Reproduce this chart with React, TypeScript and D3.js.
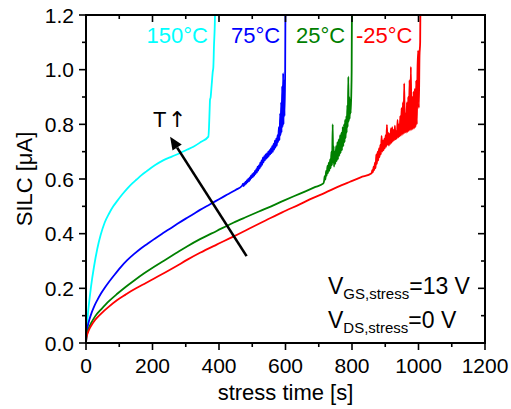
import React from "react";
import * as d3 from "d3";

// ---------- data ----------
const xTicksMajor = [0, 200, 400, 600, 800, 1000, 1200];
const xTicksMinor = [100, 300, 500, 700, 900, 1100];
const yTicksMajor = [0, 0.2, 0.4, 0.6, 0.8, 1.0, 1.2];
const yTicksMinor = [0.1, 0.3, 0.5, 0.7, 0.9, 1.1];

const seriesNames = ["150°C", "75°C", "25°C", "-25°C"];
const seriesColors = ["#00FFFF", "#0000FF", "#008000", "#FF0000"];

// 150 °C  [time s, SILC uA]
const s150: [number, number][] = [
  [0, 0], [1, 0.035], [3, 0.07], [6, 0.11], [10, 0.155], [15, 0.205], [24, 0.279], [34, 0.345], [44, 0.395],
  [56, 0.44], [69, 0.473], [82, 0.5], [94, 0.52], [110, 0.545], [124, 0.565], [140, 0.585],
  [152, 0.598], [167, 0.614], [182, 0.628], [207, 0.65], [232, 0.668], [258, 0.682], [283, 0.695],
  [303, 0.707], [323, 0.718], [345, 0.735], [368, 0.755], [370, 0.79], [372, 0.86], [373, 0.89],
  [375, 0.9], [377, 0.93], [379, 0.96], [381, 0.99], [383, 1.01], [385, 1.09], [387, 1.15],
  [388, 1.2], [390, 1.28],
];

// 75 °C
const s75: [number, number][] = [
  [0, 0], [2, 0.038], [5, 0.06], [10, 0.085], [17, 0.111], [25, 0.135], [34, 0.157], [45, 0.181],
  [58, 0.205], [70, 0.225], [84, 0.247], [104, 0.277], [124, 0.303], [144, 0.325], [164, 0.345],
  [185, 0.363], [205, 0.38], [228, 0.399], [250, 0.416], [275, 0.436], [300, 0.455], [322, 0.471],
  [343, 0.487], [372, 0.507], [400, 0.526], [425, 0.543], [450, 0.56], [470, 0.576],
  [472, 0.582], [474, 0.574], [476, 0.585], [478, 0.579], [480, 0.59], [482, 0.583], [484, 0.596],
  [486, 0.588], [488, 0.6], [490, 0.592], [492, 0.606], [494, 0.597], [496, 0.612], [498, 0.603],
  [500, 0.618], [502, 0.607], [504, 0.622], [506, 0.612], [508, 0.63], [510, 0.618], [512, 0.636],
  [514, 0.624], [516, 0.645], [518, 0.631], [520, 0.65], [522, 0.638], [524, 0.66], [526, 0.645],
  [528, 0.668], [530, 0.652], [532, 0.678], [534, 0.661], [536, 0.684], [538, 0.668], [540, 0.69],
  [542, 0.674], [544, 0.694], [546, 0.678], [548, 0.7], [550, 0.684], [552, 0.706], [554, 0.69],
  [556, 0.712], [558, 0.695], [560, 0.72], [562, 0.7], [564, 0.728], [566, 0.708], [568, 0.74],
  [570, 0.715], [572, 0.748], [574, 0.722], [576, 0.76], [578, 0.735], [580, 0.79], [582, 0.742],
  [584, 0.84], [585, 0.76], [587, 0.88], [588, 0.77], [590, 0.94], [591, 0.79], [593, 0.987],
  [594, 0.8], [596, 0.96], [597, 0.83], [599, 1.0], [600, 1.28],
];

// 25 °C
const s25: [number, number][] = [
  [0, 0], [1, 0.019], [3, 0.032], [6, 0.045], [10, 0.059], [16, 0.074], [24, 0.091], [32, 0.105],
  [44, 0.121], [69, 0.153], [94, 0.18], [119, 0.205], [144, 0.228], [175, 0.255], [205, 0.279],
  [238, 0.304], [270, 0.328], [305, 0.354], [343, 0.38], [393, 0.41], [443, 0.44], [480, 0.46],
  [520, 0.481], [557, 0.5], [593, 0.52], [625, 0.537], [660, 0.555], [690, 0.571], [714, 0.584],
  [716, 0.592], [718, 0.61], [720, 0.598], [722, 0.63], [724, 0.612], [726, 0.648], [728, 0.622],
  [730, 0.66], [732, 0.63], [734, 0.672], [736, 0.64], [738, 0.7], [740, 0.65], [742, 0.8],
  [743, 0.66], [745, 0.72], [746, 0.645], [748, 0.7], [750, 0.655], [752, 0.72], [754, 0.665],
  [756, 0.735], [758, 0.672], [760, 0.745], [762, 0.685], [764, 0.76], [766, 0.695], [768, 0.77],
  [770, 0.705], [772, 0.79], [774, 0.72], [776, 0.8], [778, 0.735], [779, 0.816], [781, 0.75],
  [783, 0.83], [784, 0.77], [786, 0.87], [787, 0.79], [789, 0.974], [790, 0.81], [792, 0.9],
  [793, 0.82], [795, 0.89], [796, 0.84], [798, 0.92], [799, 1.0], [800, 1.28],
];

// -25 °C
const sm25: [number, number][] = [
  [0, 0], [1, 0.016], [3, 0.028], [6, 0.039], [10, 0.051], [16, 0.064], [24, 0.079], [32, 0.091],
  [44, 0.106], [69, 0.133], [94, 0.157], [119, 0.177], [144, 0.196], [175, 0.216], [205, 0.236],
  [238, 0.258], [270, 0.28], [305, 0.305], [343, 0.33], [393, 0.36], [443, 0.389], [490, 0.418],
  [540, 0.448], [590, 0.478], [644, 0.508], [680, 0.529], [720, 0.55], [757, 0.571], [794, 0.59],
  [826, 0.606], [859, 0.621],
  [861, 0.632], [863, 0.625], [865, 0.645], [867, 0.633], [869, 0.66], [871, 0.64], [873, 0.69],
  [875, 0.655], [877, 0.7], [879, 0.668], [881, 0.712], [883, 0.68], [885, 0.725], [887, 0.69],
  [889, 0.758], [891, 0.7], [893, 0.74], [895, 0.705], [897, 0.748], [899, 0.712], [901, 0.76],
  [903, 0.718], [905, 0.798], [907, 0.725], [909, 0.77], [911, 0.722], [913, 0.765], [915, 0.728],
  [917, 0.785], [919, 0.732], [921, 0.79], [923, 0.738], [925, 0.78], [927, 0.742], [929, 0.795],
  [931, 0.745], [933, 0.775], [935, 0.748], [937, 0.816], [939, 0.752], [941, 0.8], [943, 0.756],
  [945, 0.83], [947, 0.758], [949, 0.86], [951, 0.762], [953, 0.88], [955, 0.765], [957, 0.95],
  [959, 0.768], [961, 0.84], [963, 0.77], [965, 0.88], [967, 0.772], [969, 0.9], [971, 0.775],
  [973, 0.962], [975, 0.778], [977, 1.01], [979, 0.78], [981, 0.9], [983, 0.782], [985, 0.92],
  [987, 0.785], [989, 0.93], [991, 0.79], [993, 0.96], [995, 0.8], [997, 1.0], [999, 1.07],
  [1001, 0.86], [1003, 1.05], [1005, 1.1], [1006, 1.28],
];

const allSeries = [s150, s75, s25, sm25];

// arrow annotation (data coords): tail -> head
const arrowTail: [number, number] = [483, 0.318];
const arrowHead: [number, number] = [253, 0.755];

// ---------- layout ----------
const W = 511, H = 409;
const L = 86, R = 485, T = 15, B = 343;
const FONT = "'Liberation Sans', Arial, Helvetica, sans-serif";

export default function App() {
  const x = d3.scaleLinear().domain([0, 1200]).range([L, R]);
  const y = d3.scaleLinear().domain([0, 1.2]).range([B, T]);
  const line = d3.line<[number, number]>().x(d => x(d[0])).y(d => y(d[1])).curve(d3.curveMonotoneX);

  const ax = x(arrowTail[0]), ay = y(arrowTail[1]);
  const hx = x(arrowHead[0]), hy = y(arrowHead[1]);
  const ang = Math.atan2(hy - ay, hx - ax);
  const headLen = 13, headW = 5.5;
  const bx = hx - headLen * Math.cos(ang), by = hy - headLen * Math.sin(ang);
  const p1 = [bx + headW * Math.sin(ang), by - headW * Math.cos(ang)];
  const p2 = [bx - headW * Math.sin(ang), by + headW * Math.cos(ang)];

  const majorLen = 7, minorLen = 4;

  return (
    <svg width={W} height={H} style={{ position: "absolute", left: 0, top: 0, background: "#fff" }}
      fontFamily={FONT}>
      <defs>
        <clipPath id="plotclip">
          <rect x={L} y={T} width={R - L} height={B - T} />
        </clipPath>
      </defs>
      <rect x={0} y={0} width={W} height={H} fill="#fff" />

      <g clipPath="url(#plotclip)">
        {allSeries.map((s, i) => (
          <path key={i} d={line(s) || ""} fill="none" stroke={seriesColors[i]}
            strokeWidth={1.8} strokeLinejoin="round" />
        ))}
      </g>

      {/* arrow */}
      <line x1={ax} y1={ay} x2={bx} y2={by} stroke="#000" strokeWidth={2.6} />
      <polygon points={`${hx},${hy} ${p1[0]},${p1[1]} ${p2[0]},${p2[1]}`} fill="#000" />
      <text x={153} y={127} fontSize={22} fill="#000">T</text>
      <text x={168} y={127} fontSize={22} fill="#000" fontFamily="'DejaVu Sans', sans-serif">↑</text>

      {/* series labels */}
      <text x={208} y={43} fontSize={22} fill={seriesColors[0]} textAnchor="end">{seriesNames[0]}</text>
      <text x={231} y={43} fontSize={22} fill={seriesColors[1]}>{seriesNames[1]}</text>
      <text x={296} y={43} fontSize={22} fill={seriesColors[2]}>{seriesNames[2]}</text>
      <text x={356} y={43} fontSize={22} fill={seriesColors[3]}>{seriesNames[3]}</text>

      {/* condition annotation */}
      <text x={328} y={294} fontSize={23} fill="#000">
        V<tspan fontSize={15} dy={5}>GS,stress</tspan><tspan dy={-5}>=13 V</tspan>
      </text>
      <text x={328} y={328} fontSize={23} fill="#000">
        V<tspan fontSize={15} dy={5}>DS,stress</tspan><tspan dy={-5}>=0 V</tspan>
      </text>

      {/* ticks */}
      <g stroke="#000" strokeWidth={1.6}>
        {xTicksMajor.map(t => (
          <g key={"xm" + t}>
            <line x1={x(t)} x2={x(t)} y1={B} y2={B + majorLen} />
            <line x1={x(t)} x2={x(t)} y1={T} y2={T + majorLen} />
          </g>
        ))}
        {xTicksMinor.map(t => (
          <g key={"xn" + t}>
            <line x1={x(t)} x2={x(t)} y1={B} y2={B + minorLen} />
            <line x1={x(t)} x2={x(t)} y1={T} y2={T + minorLen} />
          </g>
        ))}
        {yTicksMajor.map(t => (
          <g key={"ym" + t}>
            <line y1={y(t)} y2={y(t)} x1={L} x2={L - majorLen} />
            <line y1={y(t)} y2={y(t)} x1={R} x2={R - majorLen} />
          </g>
        ))}
        {yTicksMinor.map(t => (
          <g key={"yn" + t}>
            <line y1={y(t)} y2={y(t)} x1={L} x2={L - minorLen} />
            <line y1={y(t)} y2={y(t)} x1={R} x2={R - minorLen} />
          </g>
        ))}
      </g>

      {/* frame */}
      <rect x={L} y={T} width={R - L} height={B - T} fill="none" stroke="#000" strokeWidth={2} />

      {/* tick labels */}
      {xTicksMajor.map(t => (
        <text key={"xl" + t} x={x(t)} y={373} fontSize={21} textAnchor="middle" fill="#000">{t}</text>
      ))}
      {yTicksMajor.map(t => (
        <text key={"yl" + t} x={74} y={y(t)} dy="0.36em" fontSize={21} textAnchor="end" fill="#000">
          {t.toFixed(1)}
        </text>
      ))}

      {/* axis titles */}
      <text x={(L + R) / 2} y={400} fontSize={22} textAnchor="middle" fill="#000">stress time [s]</text>
      <text transform={`translate(32,${(T + B) / 2}) rotate(-90)`} fontSize={22} textAnchor="middle" fill="#000">
        SILC [μA]
      </text>
    </svg>
  );
}
